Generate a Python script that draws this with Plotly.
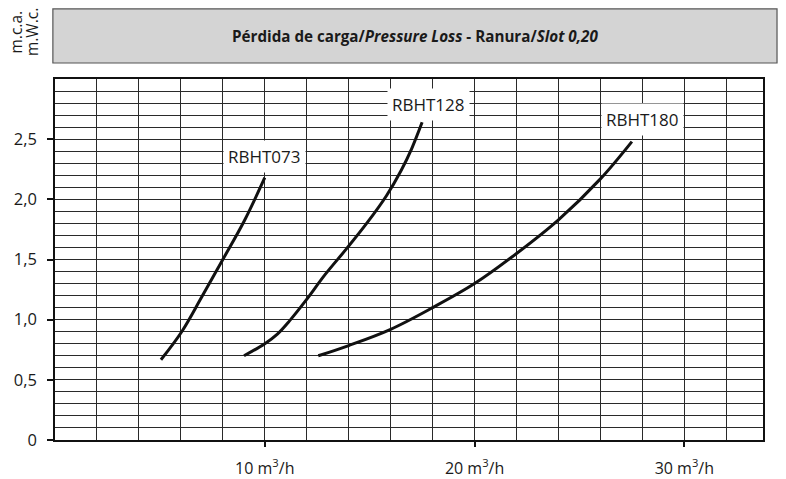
import plotly.graph_objects as go

# --- data ---
rbht073_x = [5.05, 6.04, 7.0, 8.0, 9.02, 10.0]
rbht073_y = [0.667, 0.90, 1.19, 1.50, 1.82, 2.18]

rbht128_x = [9.01, 10.0, 10.6, 11.18, 11.96, 12.9, 13.9, 14.9, 15.8, 16.5, 17.0, 17.5]
rbht128_y = [0.70, 0.80, 0.88, 0.99, 1.16, 1.38, 1.59, 1.81, 2.03, 2.24, 2.42, 2.64]

rbht180_x = [12.55, 14.0, 16.0, 18.0, 20.0, 22.0, 24.0, 26.0, 27.5]
rbht180_y = [0.70, 0.785, 0.92, 1.10, 1.30, 1.55, 1.83, 2.17, 2.48]

series_names = ["RBHT073", "RBHT128", "RBHT180"]
label_x = [9.98, 17.8, 28.0]
label_y = [2.36, 2.79, 2.66]

x_tick_vals = [10, 20, 30]
x_tick_text = ["10 m<sup>3</sup>/h", "20 m<sup>3</sup>/h", "30 m<sup>3</sup>/h"]
y_tick_vals = [0, 0.5, 1.0, 1.5, 2.0, 2.5]
y_tick_text = ["0", "0,5", "1,0", "1,5", "2,0", "2,5"]

title_text = "<b>Pérdida de carga/<i>Pressure Loss</i> - Ranura/<i>Slot 0,20</i></b>"
y_unit_lines = ["m.c.a.", "m.W.c."]

FONT = "Open Sans"
GRID = "#2a2a2a"

fig = go.Figure()
for xs, ys, name in [(rbht073_x, rbht073_y, series_names[0]),
                     (rbht128_x, rbht128_y, series_names[1]),
                     (rbht180_x, rbht180_y, series_names[2])]:
    fig.add_trace(go.Scatter(x=xs, y=ys, mode="lines", name=name,
                             line=dict(color="#111111", width=3, shape="spline", smoothing=1.0),
                             showlegend=False, hoverinfo="skip"))

for name, lx, ly in zip(series_names, label_x, label_y):
    fig.add_annotation(x=lx, y=ly, xref="x", yref="y", text=name, showarrow=False,
                       font=dict(family=FONT, size=17, color="#1a1a1a"),
                       bgcolor="white", borderpad=4)

# title box
fig.add_shape(type="rect", xref="paper", yref="paper",
              x0=-0.003, x1=1.0198, y0=1.0443, y1=1.194,
              fillcolor="#d4d4d4", line=dict(color="#555555", width=1.2), layer="above")
fig.add_annotation(xref="paper", yref="paper", x=(-0.003 + 1.0198) / 2, y=(1.0443 + 1.194) / 2,
                   xanchor="center", yanchor="middle",
                   text=title_text, showarrow=False,
                   font=dict(family=FONT, size=15.2, color="#1a1a1a"))
# y unit label (two rotated lines)
for txt, px in zip(y_unit_lines, [-0.0545, -0.0325]):
    fig.add_annotation(xref="paper", yref="paper", x=px, y=1.13, text=txt,
                       xanchor="center", yanchor="middle",
                       showarrow=False, textangle=-90,
                       font=dict(family=FONT, size=15.5, color="#1a1a1a"))

fig.update_xaxes(range=[0, 33.75], tickvals=x_tick_vals, ticktext=x_tick_text,
                 ticks="outside", ticklen=5, tickcolor="#111", tickwidth=1.5,
                 showgrid=True, gridcolor=GRID, gridwidth=1,
                 minor=dict(dtick=2, tick0=0, showgrid=True, gridcolor=GRID, gridwidth=1, ticks=""),
                 showline=True, linecolor="#111", linewidth=1.5, mirror=True,
                 zeroline=False, fixedrange=True, ticklabelstandoff=8, automargin=False,
                 tickfont=dict(family=FONT, size=16, color="#1a1a1a"))
fig.update_yaxes(range=[0, 3.0], tickvals=y_tick_vals, ticktext=y_tick_text,
                 ticks="outside", ticklen=6, tickcolor="#111", tickwidth=1.5,
                 showgrid=True, gridcolor=GRID, gridwidth=1,
                 minor=dict(dtick=0.1, tick0=0, showgrid=True, gridcolor=GRID, gridwidth=1, ticks=""),
                 showline=True, linecolor="#111", linewidth=1.5, mirror=True,
                 zeroline=False, fixedrange=True, ticklabelstandoff=7, automargin=False,
                 tickfont=dict(family=FONT, size=16.5, color="#1a1a1a"))

# the page body adds an 8px offset, so margins are reduced by 8px on the left/top
fig.update_layout(width=786, height=479, margin=dict(l=47, r=31, t=71, b=47),
                  paper_bgcolor="white", plot_bgcolor="white")

fig.write_html("out.html")
